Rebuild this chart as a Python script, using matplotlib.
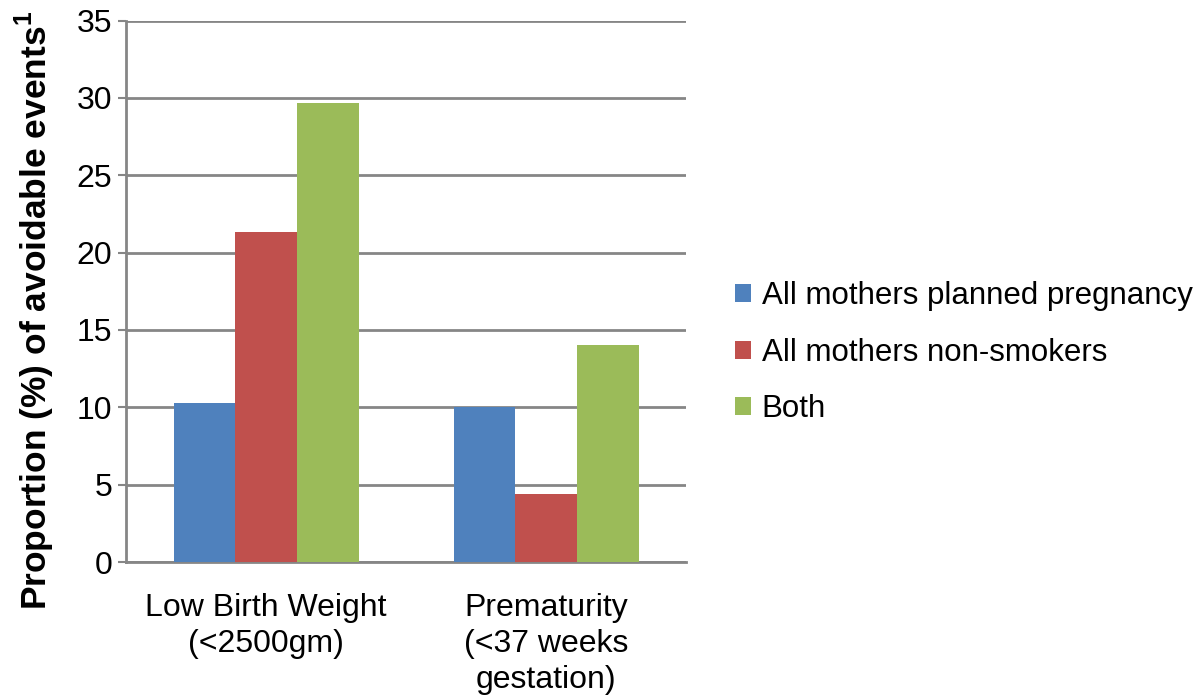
import numpy as np
import matplotlib
matplotlib.use("Agg")
import matplotlib.pyplot as plt

plt.rcParams['font.family'] = ['Liberation Sans', 'DejaVu Sans']
plt.rcParams['mathtext.fontset'] = 'custom'
plt.rcParams['mathtext.rm'] = 'Liberation Sans'
plt.rcParams['mathtext.bf'] = 'Liberation Sans:bold'

categories = ['Low Birth Weight\n(<2500gm)', 'Prematurity\n(<37 weeks\ngestation)']
series_names = ['All mothers planned pregnancy', 'All mothers non-smokers', 'Both']
planned = [10.3, 10.0]
non_smokers = [21.3, 4.4]
both = [29.7, 14.0]
colors = ['#4F81BD', '#C0504D', '#9BBB59']

grid_col = '#868686'

fig = plt.figure(figsize=(12, 6.96), dpi=100)
ax = fig.add_axes([0.105, 0.1925, 0.467, 0.778])

x = np.arange(len(categories))
w = 0.22
for i, (vals, name) in enumerate(zip([planned, non_smokers, both], series_names)):
    ax.bar(x + (i - 1) * w, vals, width=w, color=colors[i], label=name, zorder=3)

ax.set_xlim(-0.5, 1.5)
ax.set_ylim(0, 35)
ax.set_yticks(np.arange(0, 36, 5))
ax.yaxis.grid(True, color=grid_col, linewidth=2, zorder=0)
ax.set_axisbelow(True)

for s in ['top', 'right']:
    ax.spines[s].set_visible(False)
ax.spines['left'].set_color(grid_col)
ax.spines['left'].set_linewidth(2)
ax.spines['bottom'].set_color(grid_col)
ax.spines['bottom'].set_linewidth(2)

ax.tick_params(axis='y', colors=grid_col, length=6, width=1.5, pad=4, labelsize=23, labelcolor='black')
ax.set_xticks(x)
ax.set_xticklabels(categories, fontsize=23, linespacing=1.27)
ax.tick_params(axis='x', length=0, pad=22)

ax.set_ylabel(r'Proportion (%) of avoidable events$^{\mathbf{1}}$', fontsize=25.5, fontweight='bold')
ax.yaxis.set_label_coords(-0.124, 0.465)

fig.legend(loc='center left', bbox_to_anchor=(0.6125, 0.493), frameon=False,
           fontsize=22.5, handlelength=0.5, handleheight=0.5, handletextpad=0.35,
           labelspacing=0.85, borderpad=0, borderaxespad=0)

fig.savefig('out.png', dpi=100)
